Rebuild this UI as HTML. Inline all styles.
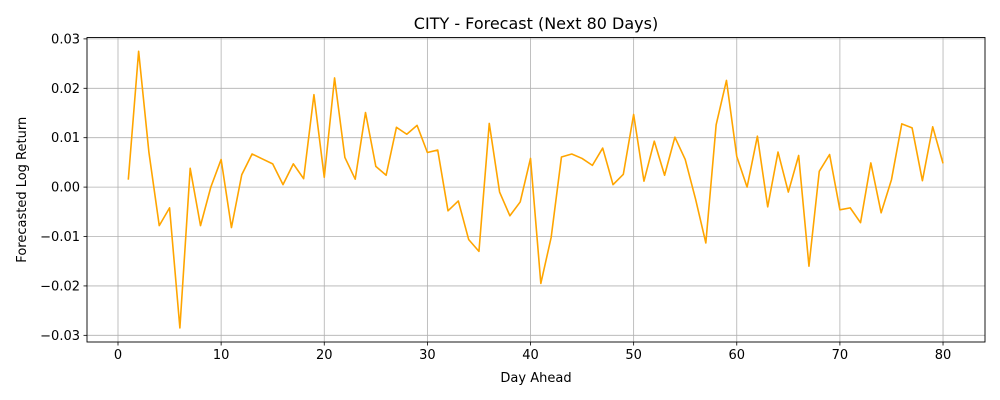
<!DOCTYPE html>
<html><head><meta charset="utf-8"><style>
html,body{margin:0;padding:0;background:#fff;}
svg{display:block;font-family:"DejaVu Sans","Liberation Sans",sans-serif;}
</style></head><body>
<svg id="chart" width="1000" height="400"></svg>
<script>
const days = Array.from({length:80},(_,i)=>i+1);
const values = [0.0015,0.0275,0.007,-0.0078,-0.0042,-0.0285,0.0038,-0.0078,0.0,0.0056,
-0.0082,0.0025,0.0067,0.0057,0.0047,0.0005,0.0047,0.0017,0.0187,0.0020,
0.0221,0.0060,0.0016,0.0151,0.0042,0.0024,0.0121,0.0107,0.0125,0.0070,
0.0075,-0.0048,-0.0028,-0.0106,-0.0130,0.0129,-0.0010,-0.0058,-0.0030,0.0058,
-0.0195,-0.0102,0.0061,0.0067,0.0058,0.0044,0.0079,0.0005,0.0026,0.0147,
0.0012,0.0093,0.0024,0.0101,0.0056,-0.0024,-0.0113,0.0126,0.0216,0.0062,
0.0000,0.0103,-0.0040,0.0071,-0.0010,0.0064,-0.0160,0.0032,0.0066,-0.0046,
-0.0042,-0.0072,0.0049,-0.0052,0.0015,0.0128,0.0120,0.0013,0.0122,0.0048];
const xTicks = [0,10,20,30,40,50,60,70,80];
const yTicks = [-0.03,-0.02,-0.01,0.00,0.01,0.02,0.03];
const yTickLabels = ["−0.03","−0.02","−0.01","0.00","0.01","0.02","0.03"];

const L=87,R=985,T=37.5,B=342;
const X0=-3.006,X1=84.07;
const Y0=-0.03135,Y1=0.03028;
const sx=v=>L+(v-X0)/(X1-X0)*(R-L);
const sy=v=>B-(v-Y0)/(Y1-Y0)*(B-T);
const NS="http://www.w3.org/2000/svg";
const svg=document.getElementById('chart');
function mk(tag,attrs,parent){const e=document.createElementNS(NS,tag);for(const k in attrs)e.setAttribute(k,attrs[k]);(parent||svg).appendChild(e);return e;}

const bg=mk('rect',{x:L,y:T,width:R-L,height:B-T,fill:'#fff'});



xTicks.forEach(t=>{
  const x=sx(t);
  const g=mk('line',{x1:x,x2:x,y1:T,y2:B,stroke:'#b0b0b0','stroke-width':0.8});
  
  
  mk('line',{x1:x,x2:x,y1:B,y2:B+3.5,stroke:'#000','stroke-width':0.8});
  const tx=mk('text',{x:x,y:B+17,'text-anchor':'middle','font-size':13,fill:'#000'});
  tx.textContent=t;
  
  
});
yTicks.forEach((t,i)=>{
  const y=sy(t);
  const g=mk('line',{x1:L,x2:R,y1:y,y2:y,stroke:'#b0b0b0','stroke-width':0.8});
  
  
  mk('line',{x1:L-3.5,x2:L,y1:y,y2:y,stroke:'#000','stroke-width':0.8});
  const tx=mk('text',{x:L-7,y:y+4.5,'text-anchor':'end','font-size':13,fill:'#000'});
  tx.textContent=yTickLabels[i];
  
  
});

const pts=days.map((d,i)=>sx(d).toFixed(2)+','+sy(values[i]).toFixed(2)).join(' ');
const line=mk('polyline',{points:pts,fill:'none',stroke:'#ffa500','stroke-width':1.6,'stroke-linejoin':'round'});



const frame=mk('rect',{x:L,y:T,width:R-L,height:B-T,fill:'none',stroke:'#000','stroke-width':0.9});



const title=mk('text',{x:(L+R)/2,y:29,'text-anchor':'middle','font-size':16,fill:'#000'});
title.textContent='CITY - Forecast (Next 80 Days)';



const xl=mk('text',{x:(L+R)/2,y:382,'text-anchor':'middle','font-size':13,fill:'#000'});
xl.textContent='Day Ahead';



const yl=mk('text',{x:0,y:0,'text-anchor':'middle','font-size':13,fill:'#000',transform:'translate(26,'+((T+B)/2)+') rotate(-90)'});
yl.textContent='Forecasted Log Return';


</script>
</body></html>
